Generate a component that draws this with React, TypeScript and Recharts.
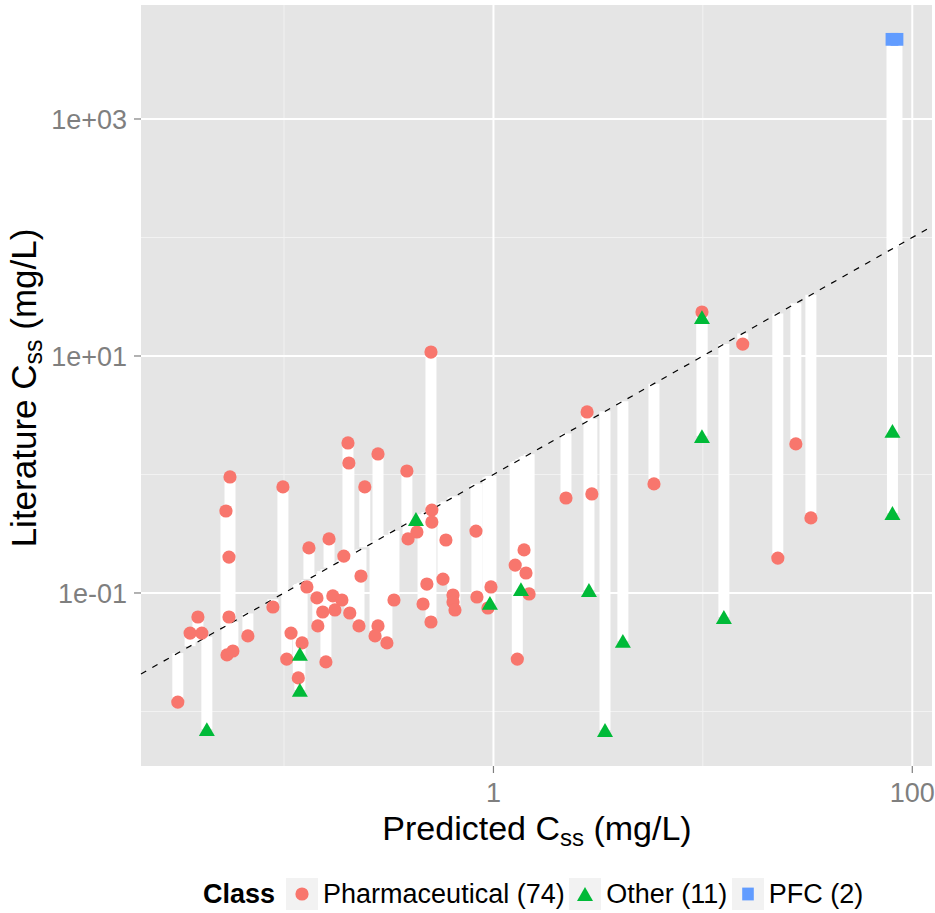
import { ScatterChart, Scatter, XAxis, YAxis, CartesianGrid, ReferenceLine } from "recharts";

const FONT = '"Liberation Sans", Arial, Helvetica, sans-serif';

// Predicted vs literature Css (mg/L)
const pharmaX = [
  0.0311, 0.0388, 0.0356, 0.0405, 0.0552, 0.0528, 0.0546, 0.0546, 0.0534, 0.057,
  0.0672, 0.0988, 0.0885, 0.108, 0.103, 0.122, 0.117, 0.1315, 0.1286, 0.202,
  0.204, 0.281, 0.243, 0.386, 0.164, 0.193, 0.233, 0.1436, 0.171, 0.189,
  0.153, 0.175, 0.206, 0.145, 0.228, 0.335, 0.281, 0.272, 0.31, 0.1585,
  0.503, 0.508, 0.508, 0.431, 0.391, 0.593, 0.825, 0.481, 0.574, 0.461,
  0.503, 0.641, 0.641, 0.655, 0.834, 0.973, 0.941, 1.4, 1.27, 1.43,
  1.48, 1.3, 2.22, 2.8, 2.95, 5.84, 9.9, 15.5, 22.8, 27.8, 32.8,
];
const pharmaY = [
  0.012, 0.0627, 0.0459, 0.0459, 0.953, 0.492, 0.201, 0.0627, 0.03, 0.0324,
  0.0434, 0.785, 0.0762, 0.0459, 0.0277, 0.0379, 0.0192, 0.24, 0.1124, 1.845,
  1.25, 1.49, 0.785, 1.07, 0.286, 0.205, 0.139, 0.0908, 0.0944, 0.0873,
  0.0691, 0.0719, 0.0678, 0.0527, 0.0527, 0.0873, 0.0527, 0.0434, 0.0379, 0.0262,
  10.8, 0.501, 0.397, 0.327, 0.286, 0.28, 0.333, 0.119, 0.131, 0.0807,
  0.0569, 0.0962, 0.084, 0.0719, 0.0925, 0.1124, 0.0747, 0.231, 0.172, 0.1475,
  0.0981, 0.0277, 0.633, 3.37, 0.685, 0.832, 23.5, 12.6, 0.197, 1.81, 0.43,
];

const otherX = [0.0428, 0.119, 0.119, 0.4265, 0.962, 1.353, 2.858, 3.41, 4.15, 9.9, 9.9, 12.6, 80.4, 80.4];
const otherY = [0.00711, 0.0306, 0.0152, 0.421, 0.0824, 0.108, 0.106, 0.00698, 0.0394, 21.3, 2.11, 0.0627, 2.33, 0.473];

const pfcX = [80.0, 84.5];
const pfcY = [4700, 4700];

const xTicks = [1, 100];
const xMinor = [0.1, 10];
const yTicks = [0.1, 10, 1000];
const yTickLabels = ["1e-01", "1e+01", "1e+03"];
const yMinor = [0.01, 1, 100];

const classLabels = ["Pharmaceutical (74)", "Other (11)", "PFC (2)"];
const classColors = ["#F8766D", "#00BA38", "#619CFF"];

const X_DOMAIN: [number, number] = [0.02075, 124.2];
const Y_DOMAIN: [number, number] = [0.003467, 9162];

const toPoints = (xs: number[], ys: number[]) => xs.map((x, i) => ({ x, y: ys[i] }));

const pharma = toPoints(pharmaX, pharmaY);
const other = toPoints(otherX, otherY);
const pfc = toPoints(pfcX, pfcY);
const allPoints = [...pharma, ...other, ...pfc];

const Circle = (props: any) => <circle cx={props.cx} cy={props.cy} r={6.6} fill={classColors[0]} />;

const Triangle = (props: any) => {
  const { cx, cy } = props;
  return <path d={`M${cx},${cy - 6.9}L${cx + 8},${cy + 6.9}L${cx - 8},${cy + 6.9}Z`} fill={classColors[1]} />;
};

const Square = (props: any) => (
  <rect x={props.cx - 6.4} y={props.cy - 6.4} width={12.8} height={12.8} fill={classColors[2]} />
);

const xTitle = () => (
  <text x={537} y={840} textAnchor="middle" fontSize={34} fontFamily={FONT} fill="#000">
    Predicted C
    <tspan fontSize={24} dy={6}>ss</tspan>
    <tspan dy={-6}> (mg/L)</tspan>
  </text>
);

const yTitle = () => (
  <text transform="translate(36, 388) rotate(-90)" textAnchor="middle" fontSize={35} fontFamily={FONT} fill="#000">
    Literature C
    <tspan fontSize={25} dy={6}>ss</tspan>
    <tspan dy={-6}> (mg/L)</tspan>
  </text>
);

const LegendKey = ({ index }: { index: number }) => (
  <svg width={32} height={32} style={{ display: "block" }}>
    <rect x={0} y={0} width={32} height={32} fill="#F2F2F2" />
    {index === 0 && <circle cx={16} cy={16} r={6.6} fill={classColors[0]} />}
    {index === 1 && <path d="M16,9.1L24,22.9L8,22.9Z" fill={classColors[1]} />}
    {index === 2 && <rect x={10.2} y={9.6} width={11.6} height={12.8} fill={classColors[2]} />}
  </svg>
);

const tickStyle = { fill: "#7F7F7F", fontSize: 27, fontFamily: FONT };

export default function App() {
  return (
    <div style={{ position: "absolute", left: 0, top: 0, width: 935, height: 913, background: "#fff", fontFamily: FONT }}>
      <ScatterChart width={935} height={913} margin={{ top: 5, right: 3, bottom: 0, left: 0 }}>
        <CartesianGrid fill="#E5E5E5" horizontal={false} vertical={false} />
        <XAxis
          type="number"
          dataKey="x"
          scale="log"
          domain={X_DOMAIN}
          allowDataOverflow
          ticks={xTicks}
          interval={0}
          tickFormatter={(v: number) => String(v)}
          height={147}
          axisLine={false}
          tickLine={{ stroke: "#7F7F7F", strokeWidth: 1.2 }}
          tickSize={7}
          tickMargin={10}
          tick={tickStyle}
          label={xTitle}
        />
        <YAxis
          type="number"
          dataKey="y"
          scale="log"
          domain={Y_DOMAIN}
          allowDataOverflow
          ticks={yTicks}
          interval={0}
          tickFormatter={(v: number) => yTickLabels[yTicks.indexOf(v)]}
          width={141}
          axisLine={false}
          tickLine={{ stroke: "#7F7F7F", strokeWidth: 1.2 }}
          tickSize={7}
          tickMargin={7}
          tick={tickStyle}
          label={yTitle}
        />

        {xMinor.map((v) => (
          <ReferenceLine key={`xm-${v}`} x={v} stroke="#F2F2F2" strokeWidth={1} />
        ))}
        {yMinor.map((v) => (
          <ReferenceLine key={`ym-${v}`} y={v} stroke="#F2F2F2" strokeWidth={1} />
        ))}
        {xTicks.map((v) => (
          <ReferenceLine key={`xM-${v}`} x={v} stroke="#FFFFFF" strokeWidth={2} />
        ))}
        {yTicks.map((v) => (
          <ReferenceLine key={`yM-${v}`} y={v} stroke="#FFFFFF" strokeWidth={2} />
        ))}

        {/* residual bars: from the 1:1 line to each literature value */}
        {allPoints.map((p, i) => (
          <ReferenceLine
            key={`bar-${i}`}
            segment={[{ x: p.x, y: p.x }, { x: p.x, y: p.y }]}
            stroke="#FFFFFF"
            strokeWidth={11}
            ifOverflow="visible"
          />
        ))}

        <ReferenceLine
          segment={[{ x: X_DOMAIN[0], y: X_DOMAIN[0] }, { x: X_DOMAIN[1], y: X_DOMAIN[1] }]}
          stroke="#000"
          strokeWidth={1.2}
          strokeDasharray="6 7"
          ifOverflow="visible"
        />

        <Scatter data={pharma} shape={Circle} isAnimationActive={false} />
        <Scatter data={other} shape={Triangle} isAnimationActive={false} />
        <Scatter data={pfc} shape={Square} isAnimationActive={false} />
      </ScatterChart>

      <div
        style={{
          position: "absolute",
          left: 203,
          top: 878,
          height: 32,
          display: "flex",
          alignItems: "center",
          fontSize: 27,
          lineHeight: 1,
          color: "#000",
          whiteSpace: "nowrap",
        }}
      >
        <span style={{ fontWeight: "bold", marginRight: 11 }}>Class</span>
        {classLabels.map((label, i) => (
          <div key={label} style={{ display: "flex", alignItems: "center", marginRight: 4.5 }}>
            <LegendKey index={i} />
            <span style={{ marginLeft: 5 }}>{label}</span>
          </div>
        ))}
      </div>
    </div>
  );
}
